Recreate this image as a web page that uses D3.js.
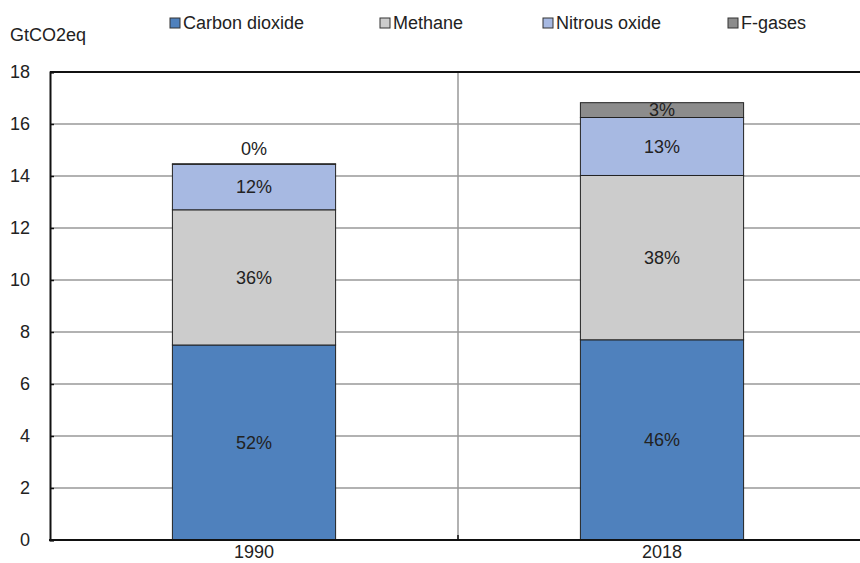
<!DOCTYPE html>
<html lang="en">
<head>
  <meta charset="UTF-8" />
  <title>GHG emissions by gas</title>
  <script src="https://d3js.org/d3.v7.min.js"></script>
  <style>
    body {
      margin: 0;
      background: #fff;
      overflow: hidden;
    }
    svg text {
      font-family: "Liberation Sans Narrow", "Arial Narrow", "Liberation Sans", Arial, sans-serif;
      font-size: 18px;
      fill: #222;
    }
  </style>
</head>
<body>
  <svg width="860" height="563"></svg>
  <script>
    const years = ["1990", "2018"];
    const gases = ["Carbon dioxide", "Methane", "Nitrous oxide", "F-gases"];
    const colors = ["#4f81bd", "#cccccc", "#a7b9e2", "#8c8c8c"];
    // GtCO2eq, one array per gas, in the order of years
    const co2 = [7.5, 7.7];
    const methane = [5.2, 6.32];
    const nitrous = [1.75, 2.23];
    const fgases = [0.02, 0.57];
    const yTicks = [0, 2, 4, 6, 8, 10, 12, 14, 16, 18];

    const rows = years.map((y, i) => ({
      year: y,
      "Carbon dioxide": co2[i],
      "Methane": methane[i],
      "Nitrous oxide": nitrous[i],
      "F-gases": fgases[i]
    }));
    rows.forEach(r => r.total = d3.sum(gases, g => r[g]));

    const svg = d3.select("svg");
    const plotL = 50, plotR = 866, plotT = 72, plotB = 540;

    const x = d3.scaleBand().domain(years).range([plotL, plotR])
      .paddingInner(0.6).paddingOuter(0.3);
    const step = x.step();
    const y = d3.scaleLinear().domain([0, 18]).range([plotB, plotT]);

    // gridlines
    svg.append("g")
      .selectAll("line")
      .data(yTicks.filter(d => d > 0 && d < 18))
      .join("line")
      .attr("x1", plotL).attr("x2", plotR)
      .attr("y1", d => y(d)).attr("y2", d => y(d))
      .attr("stroke", "#999")
      .attr("stroke-width", 1.5);

    // category separator
    svg.append("line")
      .attr("x1", plotL + step).attr("x2", plotL + step)
      .attr("y1", plotT).attr("y2", plotB)
      .attr("stroke", "#999")
      .attr("stroke-width", 1.5);

    // frame top
    svg.append("line")
      .attr("x1", plotL).attr("x2", plotR)
      .attr("y1", plotT).attr("y2", plotT)
      .attr("stroke", "#111")
      .attr("stroke-width", 2);

    const stack = d3.stack().keys(gases)(rows);

    svg.append("g")
      .selectAll("g")
      .data(stack)
      .join("g")
      .attr("fill", (d, i) => colors[i])
      .selectAll("rect")
      .data(d => d)
      .join("rect")
      .attr("x", d => x(d.data.year))
      .attr("width", x.bandwidth())
      .attr("y", d => y(d[1]))
      .attr("height", d => y(d[0]) - y(d[1]))
      .attr("stroke", "#222")
      .attr("stroke-width", 1);

    // percentage labels
    const labels = [];
    stack.forEach(layer => {
      layer.forEach(d => {
        const h = y(d[0]) - y(d[1]);
        const cy = h < 10 ? y(d[1]) - 15 : (y(d[0]) + y(d[1])) / 2;
        labels.push({
          x: x(d.data.year) + x.bandwidth() / 2,
          y: cy,
          t: Math.round((d[1] - d[0]) / d.data.total * 100) + "%"
        });
      });
    });
    svg.append("g")
      .selectAll("text")
      .data(labels)
      .join("text")
      .attr("x", d => d.x)
      .attr("y", d => d.y)
      .attr("dy", "0.35em")
      .attr("text-anchor", "middle")
      .text(d => d.t);

    // y axis
    const yAxis = svg.append("g")
      .attr("transform", `translate(${plotL},0)`)
      .call(d3.axisLeft(y).tickValues(yTicks).tickSize(-4).tickPadding(20).tickFormat(d3.format("d")));
    yAxis.select(".domain").attr("stroke", "#111").attr("stroke-width", 2);
    yAxis.selectAll(".tick line").attr("stroke", "#111").attr("stroke-width", 1.5);
    yAxis.selectAll("text").attr("font-size", null).attr("font-family", null).attr("fill", "#222");

    // x axis
    svg.append("line")
      .attr("x1", plotL - 1).attr("x2", plotR)
      .attr("y1", plotB).attr("y2", plotB)
      .attr("stroke", "#111")
      .attr("stroke-width", 2);
    svg.append("line")
      .attr("x1", plotL + step).attr("x2", plotL + step)
      .attr("y1", plotB).attr("y2", plotB - 5)
      .attr("stroke", "#111")
      .attr("stroke-width", 1.5);
    svg.append("g")
      .selectAll("text")
      .data(years)
      .join("text")
      .attr("x", d => x(d) + x.bandwidth() / 2)
      .attr("y", 558)
      .attr("text-anchor", "middle")
      .text(d => d);

    // unit
    svg.append("text")
      .attr("x", 10)
      .attr("y", 41)
      .text("GtCO2eq");

    // legend
    const legendX = [170, 380, 543, 728];
    const lg = svg.append("g")
      .selectAll("g")
      .data(gases)
      .join("g")
      .attr("transform", (d, i) => `translate(${legendX[i]},18)`);
    lg.append("rect")
      .attr("width", 10).attr("height", 10)
      .attr("fill", (d, i) => colors[i])
      .attr("stroke", "#333")
      .attr("stroke-width", 1);
    lg.append("text")
      .attr("x", 13)
      .attr("y", 11)
      .text(d => d);
  </script>
</body>
</html>
